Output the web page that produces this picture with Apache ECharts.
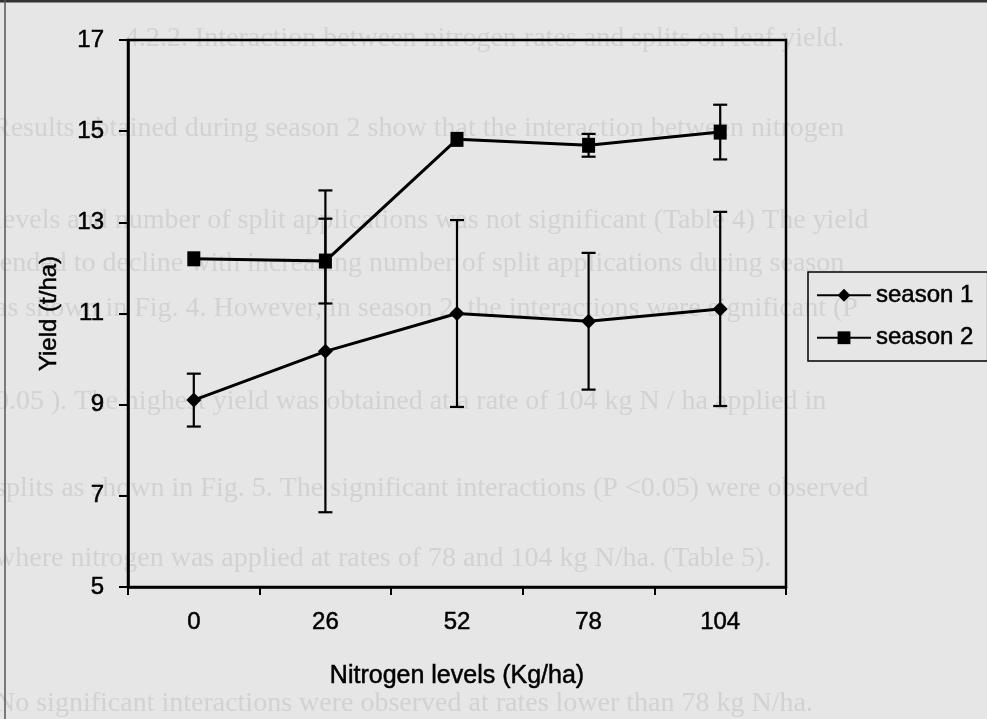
<!DOCTYPE html>
<html>
<head>
<meta charset="utf-8">
<script src="https://cdn.jsdelivr.net/npm/echarts@6/dist/echarts.min.js"></script>
<style>
  html, body { margin: 0; padding: 0; background: #e6e6e6; }
  #chart { width: 987px; height: 719px; }
</style>
</head>
<body>
<div id="chart"></div>
<script>
// nitrogen levels (Kg/ha)
const levels = ['0', '26', '52', '78', '104'];
// mean yield (t/ha) and half-length of error bars
const season1 = [9.1, 10.17, 11.0, 10.83, 11.1];
const season1Err = [0.58, 3.53, 2.05, 1.5, 2.13];
const season2 = [12.2, 12.15, 14.82, 14.69, 14.98];
const season2Err = [0, 0.93, 0, 0.25, 0.6];
const yTicks = [5, 7, 9, 11, 13, 15, 17];

// faded text showing through the scanned page
const ghostLines = [
  [125, 40, '4.2.2. Interaction between nitrogen rates and splits on leaf yield.'],
  [-8, 130, 'Results obtained during season 2 show that the interaction between nitrogen'],
  [-5, 222, 'levels and number of split applications was not significant (Table 4) The yield'],
  [-8, 265, 'tended to decline with increasing number of split applications during season'],
  [-5, 310, 'as shown in Fig. 4. However, in season 2, the interactions were significant (P'],
  [-5, 403, '0.05 ). The highest yield was obtained at a rate of 104 kg N / ha applied in'],
  [-5, 490, 'splits as shown in Fig. 5. The significant interactions (P <0.05) were observed'],
  [-5, 560, 'where nitrogen was applied at rates of 78 and 104 kg N/ha. (Table 5).'],
  [-5, 705, 'No significant interactions were observed at rates lower than 78 kg N/ha.']
];

function errData(mean, err) {
  const out = [];
  mean.forEach((m, i) => {
    if (err[i] > 0) out.push([i, m - err[i], m + err[i]]);
  });
  return out;
}

function renderErr(params, api) {
  const x = api.value(0);
  const top = api.coord([x, api.value(2)]);
  const bot = api.coord([x, api.value(1)]);
  const w = 7;
  const st = { stroke: '#000', lineWidth: 2.2 };
  return {
    type: 'group',
    children: [
      { type: 'line', shape: { x1: top[0], y1: top[1], x2: bot[0], y2: bot[1] }, style: st },
      { type: 'line', shape: { x1: top[0] - w, y1: top[1], x2: top[0] + w, y2: top[1] }, style: st },
      { type: 'line', shape: { x1: bot[0] - w, y1: bot[1], x2: bot[0] + w, y2: bot[1] }, style: st }
    ]
  };
}

const chart = echarts.init(document.getElementById('chart'));
const font = 'Liberation Sans, Arial, sans-serif';
// scanned print looks a bit heavier than plain regular
const ink = { color: '#000', textBorderColor: '#000', textBorderWidth: 0.5 };

chart.setOption({
  backgroundColor: '#e6e6e6',
  animation: false,
  textStyle: { fontFamily: font, color: '#000' },
  graphic: [
    ...ghostLines.map(l => ({
      type: 'text', left: l[0], top: l[1] - 15, z: -10, silent: true,
      style: { text: l[2], font: '28px "Liberation Serif", serif', fill: '#d2d2d2' }
    })),
    { type: 'line', z: -5, shape: { x1: 0, y1: 1, x2: 987, y2: 1 }, style: { stroke: '#333', lineWidth: 3 } },
    { type: 'line', z: -5, shape: { x1: 5, y1: 0, x2: 5, y2: 719 }, style: { stroke: '#555', lineWidth: 1.5 } }
  ],
  grid: {
    left: 128, right: 201, top: 40, bottom: 132,
    show: true, borderColor: '#000', borderWidth: 2.5, backgroundColor: 'transparent'
  },
  legend: {
    orient: 'vertical',
    left: 808, top: 272,
    padding: [11, 14, 11, 8],
    itemGap: 18,
    itemWidth: 54, itemHeight: 16,
    itemTextGap: 5,
    borderColor: '#000', borderWidth: 1.5,
    textStyle: Object.assign({ fontSize: 24, fontFamily: font }, ink),
    data: ['season 1', 'season 2']
  },
  xAxis: {
    type: 'category',
    data: levels,
    boundaryGap: true,
    name: 'Nitrogen levels (Kg/ha)',
    nameLocation: 'middle',
    nameGap: 77,
    nameTextStyle: Object.assign({ fontSize: 25 }, ink),
    axisLine: { lineStyle: { color: '#000', width: 2.5 } },
    axisTick: { show: true, length: 8, lineStyle: { color: '#000', width: 2 } },
    axisLabel: Object.assign({ fontSize: 24, margin: 23 }, ink),
    splitLine: { show: false }
  },
  yAxis: {
    type: 'value',
    min: yTicks[0], max: yTicks[yTicks.length - 1], interval: 2,
    name: 'Yield (t/ha)',
    nameLocation: 'middle',
    nameRotate: 90,
    nameGap: 67,
    nameTextStyle: Object.assign({ fontSize: 24 }, ink),
    axisLine: { show: true, lineStyle: { color: '#000', width: 2.5 } },
    axisTick: { show: true, length: 9, lineStyle: { color: '#000', width: 2 } },
    axisLabel: Object.assign({ fontSize: 24, margin: 24 }, ink),
    splitLine: { show: false }
  },
  series: [
    {
      type: 'custom', name: 'err1', renderItem: renderErr,
      data: errData(season1, season1Err), z: 1, encode: { x: 0, y: [1, 2] }
    },
    {
      type: 'custom', name: 'err2', renderItem: renderErr,
      data: errData(season2, season2Err), z: 1, encode: { x: 0, y: [1, 2] }
    },
    {
      name: 'season 1', type: 'line', data: season1, z: 3,
      symbol: 'diamond', symbolSize: 15,
      lineStyle: { color: '#000', width: 3 },
      itemStyle: { color: '#000' }
    },
    {
      name: 'season 2', type: 'line', data: season2, z: 3,
      symbol: 'rect', symbolSize: [13, 15],
      lineStyle: { color: '#000', width: 3 },
      itemStyle: { color: '#000' }
    }
  ]
});
</script>
</body>
</html>
